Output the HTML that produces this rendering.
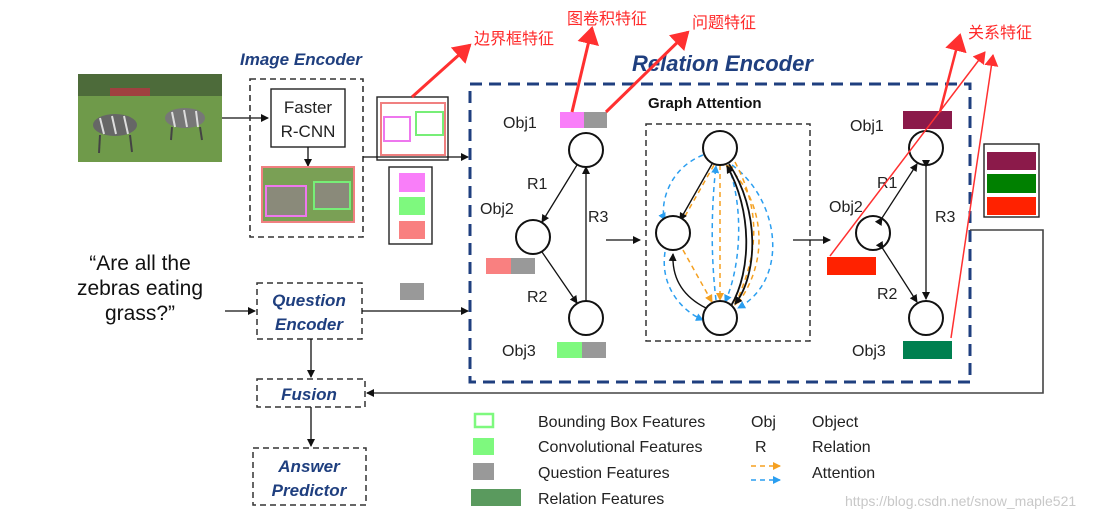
<!DOCTYPE html>
<html><head><meta charset="utf-8"><style>
html,body{margin:0;padding:0;background:#fff;}
svg{display:block;font-family:"Liberation Sans","Noto Sans CJK SC",sans-serif;}
.t{font-size:16px;fill:#222}
.nb{font-weight:bold;font-style:italic;fill:#1f3f7f}
.cn{fill:#ff2a2a;font-size:16px;font-family:"Liberation Sans","Noto Sans CJK SC",sans-serif}
</style></head><body>
<svg width="1115" height="519" viewBox="0 0 1115 519" xmlns="http://www.w3.org/2000/svg">
<defs>
<marker id="a" markerWidth="8" markerHeight="8" refX="7" refY="4" orient="auto" markerUnits="userSpaceOnUse"><path d="M0,0 L8,4 L0,8 z" fill="#111"/></marker>
<marker id="ao" markerWidth="8" markerHeight="8" refX="7" refY="4" orient="auto" markerUnits="userSpaceOnUse"><path d="M0,0 L8,4 L0,8 z" fill="#f5a020"/></marker>
<marker id="ab" markerWidth="8" markerHeight="8" refX="7" refY="4" orient="auto" markerUnits="userSpaceOnUse"><path d="M0,0 L8,4 L0,8 z" fill="#2a9ef0"/></marker>
<marker id="ar" markerWidth="18" markerHeight="22" refX="16" refY="11" orient="auto" markerUnits="userSpaceOnUse"><path d="M0,0 L18,11 L0,22 z" fill="#ff3030"/></marker>
<marker id="ars" markerWidth="12" markerHeight="14" refX="11" refY="7" orient="auto" markerUnits="userSpaceOnUse"><path d="M0,0 L12,7 L0,14 z" fill="#ff3030"/></marker>
</defs>
<rect width="1115" height="519" fill="#fff"/>

<!-- photo -->
<rect x="78" y="74" width="144" height="88" fill="#6f9a4a"/>
<rect x="78" y="74" width="144" height="22" fill="#4d6b3a"/>
<rect x="110" y="88" width="40" height="8" fill="#a04040"/>
<ellipse cx="115" cy="125" rx="22" ry="11" fill="#666"/>
<ellipse cx="185" cy="118" rx="20" ry="10" fill="#777"/>
<g stroke="#ddd" stroke-width="2"><line x1="100" y1="118" x2="104" y2="134"/><line x1="112" y1="116" x2="116" y2="134"/><line x1="124" y1="116" x2="128" y2="134"/><line x1="172" y1="112" x2="175" y2="127"/><line x1="184" y1="110" x2="187" y2="127"/><line x1="196" y1="111" x2="198" y2="127"/></g>
<g stroke="#444" stroke-width="2"><line x1="100" y1="135" x2="99" y2="153"/><line x1="130" y1="135" x2="132" y2="152"/><line x1="172" y1="127" x2="171" y2="140"/><line x1="200" y1="127" x2="202" y2="140"/></g>
<line x1="222" y1="118" x2="268" y2="118" stroke="#111" stroke-width="1.3" marker-end="url(#a)"/>

<text x="240" y="65" class="nb" font-size="17">Image Encoder</text>
<rect x="250" y="79" width="113" height="158" fill="none" stroke="#333" stroke-width="1.6" stroke-dasharray="6,4"/>
<rect x="271" y="89" width="74" height="58" fill="#fff" stroke="#222" stroke-width="1.4"/>
<text x="308" y="113" text-anchor="middle" font-size="17" fill="#222">Faster</text>
<text x="308" y="137" text-anchor="middle" font-size="17" fill="#222">R-CNN</text>
<line x1="308" y1="147" x2="308" y2="166" stroke="#111" stroke-width="1.3" marker-end="url(#a)"/>
<rect x="262" y="167" width="92" height="55" fill="#7aa055" stroke="#f08080" stroke-width="2"/>
<rect x="266" y="186" width="40" height="30" fill="#8a8a7a" stroke="#ee77ee" stroke-width="2"/>
<rect x="314" y="182" width="36" height="27" fill="#8a8a7a" stroke="#77ee77" stroke-width="2"/>

<rect x="377" y="97" width="71" height="63" fill="#fff" stroke="#222" stroke-width="1.4"/>
<rect x="381" y="103" width="64" height="52" fill="none" stroke="#f08080" stroke-width="2"/>
<rect x="384" y="117" width="26" height="24" fill="none" stroke="#ee77ee" stroke-width="2"/>
<rect x="416" y="112" width="27" height="23" fill="none" stroke="#77ee77" stroke-width="2"/>
<rect x="389" y="167" width="43" height="77" fill="#fff" stroke="#222" stroke-width="1.4"/>
<rect x="399" y="173" width="26" height="19" fill="#f97ef9"/>
<rect x="399" y="197" width="26" height="18" fill="#7ef97e"/>
<rect x="399" y="221" width="26" height="18" fill="#f98080"/>
<polyline points="363,157 468,157" fill="none" stroke="#111" stroke-width="1.3" marker-end="url(#a)"/>

<!-- Relation encoder -->
<text x="632" y="71" class="nb" font-size="22">Relation Encoder</text>
<rect x="470" y="84" width="500" height="298" fill="none" stroke="#1f3f7f" stroke-width="3" stroke-dasharray="12,7"/>
<text x="648" y="108" font-size="15" font-weight="bold" fill="#111">Graph Attention</text>
<rect x="646" y="124" width="164" height="217" fill="none" stroke="#333" stroke-width="1.5" stroke-dasharray="6,4"/>

<!-- left graph -->
<g fill="#fff" stroke="#111" stroke-width="2"><circle cx="586" cy="150" r="17"/><circle cx="533" cy="237" r="17"/><circle cx="586" cy="318" r="17"/></g>
<line x1="577" y1="165" x2="542" y2="222" stroke="#111" stroke-width="1.3" marker-end="url(#a)"/>
<line x1="586" y1="301" x2="586" y2="167" stroke="#111" stroke-width="1.3" marker-end="url(#a)"/>
<line x1="542" y1="252" x2="577" y2="303" stroke="#111" stroke-width="1.3" marker-end="url(#a)"/>
<text x="503" y="128" class="t">Obj1</text><rect x="560" y="112" width="24" height="16" fill="#f97ef9"/><rect x="584" y="112" width="23" height="16" fill="#999"/>
<text x="480" y="214" class="t">Obj2</text><rect x="486" y="258" width="25" height="16" fill="#f98080"/><rect x="511" y="258" width="24" height="16" fill="#999"/>
<text x="502" y="356" class="t">Obj3</text><rect x="557" y="342" width="25" height="16" fill="#7ef97e"/><rect x="582" y="342" width="24" height="16" fill="#999"/>
<text x="527" y="189" class="t">R1</text><text x="588" y="222" class="t">R3</text><text x="527" y="302" class="t">R2</text>
<line x1="606" y1="240" x2="640" y2="240" stroke="#111" stroke-width="1.3" marker-end="url(#a)"/>

<!-- GA graph -->
<g fill="none" stroke-width="1.5" stroke-dasharray="5,4">
<path d="M703,155 C665,170 660,210 665,220" stroke="#2a9ef0" marker-end="url(#ab)"/>
<path d="M665,252 C660,285 680,310 703,320" stroke="#2a9ef0" marker-end="url(#ab)"/>
<path d="M705,332 C650,320 660,180 712,163" stroke="none"/>
<path d="M728,165 C745,210 740,270 725,302" stroke="#2a9ef0" marker-end="url(#ab)"/>
<path d="M732,165 C780,200 790,280 738,308" stroke="#2a9ef0" marker-end="url(#ab)"/>
<path d="M716,300 C710,250 712,200 716,166" stroke="#2a9ef0" marker-end="url(#ab)"/>
<path d="M714,165 L680,225" stroke="#f5a020" marker-end="url(#ao)"/>
<path d="M720,165 L720,300" stroke="#f5a020" marker-end="url(#ao)"/>
<path d="M683,250 L712,302" stroke="#f5a020" marker-end="url(#ao)"/>
<path d="M738,303 C770,260 765,200 726,165" stroke="#f5a020" marker-end="url(#ao)"/>
<path d="M735,162 C760,210 760,250 735,305" stroke="#f5a020" marker-end="url(#ao)"/>
</g>
<path d="M712,164 L680,220" stroke="#111" stroke-width="1.4" fill="none" marker-end="url(#a)"/>
<path d="M706,308 C680,295 672,275 673,254" stroke="#111" stroke-width="1.4" fill="none" marker-end="url(#a)"/>
<path d="M729,164 C760,210 758,275 735,304" stroke="#111" stroke-width="1.8" fill="none" marker-end="url(#a)"/>
<path d="M731,306 C752,270 752,210 727,166" stroke="#111" stroke-width="1.8" fill="none" marker-end="url(#a)"/>
<g fill="#fff" stroke="#111" stroke-width="2"><circle cx="720" cy="148" r="17"/><circle cx="673" cy="233" r="17"/><circle cx="720" cy="318" r="17"/></g>
<line x1="793" y1="240" x2="830" y2="240" stroke="#111" stroke-width="1.3" marker-end="url(#a)"/>

<!-- right graph -->
<g fill="#fff" stroke="#111" stroke-width="2"><circle cx="926" cy="148" r="17"/><circle cx="873" cy="233" r="17"/><circle cx="926" cy="318" r="17"/></g>
<line x1="882" y1="218" x2="917" y2="164" stroke="#111" stroke-width="1.3" marker-start="url(#a)" marker-end="url(#a)"/>
<line x1="926" y1="167" x2="926" y2="299" stroke="#111" stroke-width="1.3" marker-start="url(#a)" marker-end="url(#a)"/>
<line x1="883" y1="249" x2="917" y2="302" stroke="#111" stroke-width="1.3" marker-start="url(#a)" marker-end="url(#a)"/>
<text x="850" y="131" class="t">Obj1</text><rect x="903" y="111" width="49" height="18" fill="#8b1a4a"/>
<text x="829" y="212" class="t">Obj2</text><rect x="827" y="257" width="49" height="18" fill="#ff2200"/>
<text x="852" y="356" class="t">Obj3</text><rect x="903" y="341" width="49" height="18" fill="#008050"/>
<text x="877" y="188" class="t">R1</text><text x="935" y="222" class="t">R3</text><text x="877" y="299" class="t">R2</text>

<rect x="984" y="144" width="55" height="73" fill="#fff" stroke="#222" stroke-width="1.4"/>
<rect x="987" y="152" width="49" height="18" fill="#8b1a4a"/>
<rect x="987" y="174" width="49" height="19" fill="#008000"/>
<rect x="987" y="197" width="49" height="18" fill="#ff2200"/>
<polyline points="970,230 1043,230 1043,393 367,393" fill="none" stroke="#444" stroke-width="1.6" marker-end="url(#a)"/>

<!-- question -->
<g font-size="21" fill="#111" text-anchor="middle"><text x="140" y="270">“Are all the</text><text x="140" y="295">zebras eating</text><text x="140" y="320">grass?”</text></g>
<line x1="225" y1="311" x2="255" y2="311" stroke="#111" stroke-width="1.3" marker-end="url(#a)"/>
<rect x="257" y="283" width="105" height="56" fill="none" stroke="#333" stroke-width="1.5" stroke-dasharray="6,4"/>
<text x="309" y="306" text-anchor="middle" class="nb" font-size="17">Question</text>
<text x="309" y="330" text-anchor="middle" class="nb" font-size="17">Encoder</text>
<rect x="400" y="283" width="24" height="17" fill="#999"/>
<line x1="362" y1="311" x2="468" y2="311" stroke="#111" stroke-width="1.3" marker-end="url(#a)"/>
<line x1="311" y1="339" x2="311" y2="377" stroke="#111" stroke-width="1.3" marker-end="url(#a)"/>
<rect x="257" y="379" width="108" height="28" fill="none" stroke="#333" stroke-width="1.5" stroke-dasharray="6,4"/>
<text x="309" y="400" text-anchor="middle" class="nb" font-size="17">Fusion</text>
<line x1="311" y1="407" x2="311" y2="446" stroke="#111" stroke-width="1.3" marker-end="url(#a)"/>
<rect x="253" y="448" width="113" height="57" fill="none" stroke="#333" stroke-width="1.5" stroke-dasharray="6,4"/>
<text x="309" y="472" text-anchor="middle" class="nb" font-size="17">Answer</text>
<text x="309" y="496" text-anchor="middle" class="nb" font-size="17">Predictor</text>

<!-- legend -->
<rect x="475" y="414" width="18" height="13" fill="#fff" stroke="#7ef97e" stroke-width="2.5"/>
<rect x="473" y="438" width="21" height="17" fill="#7ef97e"/>
<rect x="473" y="463" width="21" height="17" fill="#999"/>
<rect x="471" y="489" width="50" height="17" fill="#5a9a5e"/>
<g class="t" font-size="15.5"><text x="538" y="427">Bounding Box  Features</text><text x="538" y="452">Convolutional  Features</text><text x="538" y="478">Question  Features</text><text x="538" y="504">Relation  Features</text>
<text x="751" y="427">Obj</text><text x="812" y="427">Object</text><text x="755" y="452">R</text><text x="812" y="452">Relation</text><text x="812" y="478">Attention</text></g>
<line x1="751" y1="466" x2="780" y2="466" stroke="#f5a020" stroke-width="1.5" stroke-dasharray="5,4" marker-end="url(#ao)"/>
<line x1="751" y1="480" x2="780" y2="480" stroke="#2a9ef0" stroke-width="1.5" stroke-dasharray="5,4" marker-end="url(#ab)"/>
<text x="845" y="506" font-size="14" fill="#c8c8c8">https://blog.csdn.net/snow_maple521</text>

<!-- red annotations -->
<text x="474" y="44" class="cn">边界框特征</text>
<text x="567" y="24" class="cn">图卷积特征</text>
<text x="692" y="28" class="cn">问题特征</text>
<text x="968" y="38" class="cn">关系特征</text>
<line x1="412" y1="97" x2="470" y2="45" stroke="#ff3030" stroke-width="3" marker-end="url(#ar)"/>
<line x1="572" y1="112" x2="592" y2="28" stroke="#ff3030" stroke-width="3" marker-end="url(#ar)"/>
<line x1="606" y1="112" x2="688" y2="32" stroke="#ff3030" stroke-width="3" marker-end="url(#ar)"/>
<line x1="940" y1="112" x2="960" y2="35" stroke="#ff3030" stroke-width="2.5" marker-end="url(#ar)"/>
<line x1="830" y1="256" x2="985" y2="52" stroke="#ff3030" stroke-width="1.5" marker-end="url(#ars)"/>
<line x1="951" y1="338" x2="993" y2="55" stroke="#ff3030" stroke-width="1.5" marker-end="url(#ars)"/>
</svg>
</body></html>
